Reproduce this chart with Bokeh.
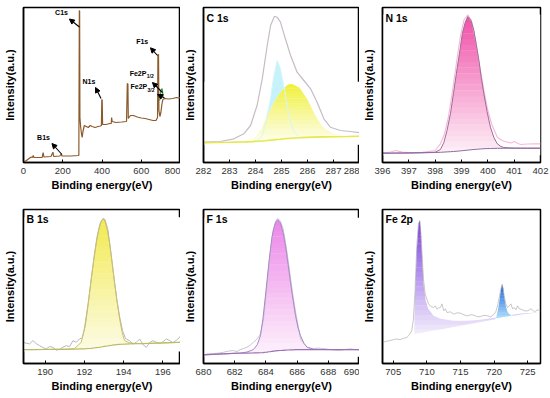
import numpy as np
from bokeh.plotting import figure
from bokeh.layouts import gridplot
from bokeh.models import Range1d, FixedTicker, Arrow, NormalHead, Label
from bokeh.embed import file_html
from bokeh.resources import INLINE

FONT = "Liberation Sans"

# ---------------- data ----------------
# Survey spectrum
sv_x = [0, 15, 25, 35, 40, 45, 50, 53, 70, 95, 100, 104, 140, 150, 154, 185, 192, 196, 240, 282,
        284.5, 286, 287.5, 291, 296, 299, 303, 310, 320, 330, 340, 350, 365, 380, 392, 397, 399, 401, 403,
        420, 440, 447, 449, 452, 470, 500, 525, 529, 532, 534, 545, 560, 580, 600, 620, 640, 660, 675,
        683, 685, 688, 690, 695, 700, 705, 710, 720, 740, 760, 780, 790, 800]
sv_y = [0.5, 2, 3.5, 5, 5.5, 5, 7, 5, 5, 5, 10, 5.5, 6, 10.3, 6, 6.5, 8.5, 6.5, 6.5, 7,
        152, 151.5, 45, 36, 28, 25, 31, 37, 36, 35, 37, 36, 35, 36, 36.5, 37, 63, 62.5, 38,
        38, 39, 39, 45, 41, 40, 40.5, 41, 79, 78.5, 44, 47, 47, 45.5, 44.5, 44, 43, 42, 42,
        45, 108, 108, 52, 46, 50, 58, 63, 64, 63.5, 64, 65, 64.5, 65]
sv_green_x = [694, 700, 706, 712]
sv_green_y = [62, 72, 74, 66]

# C 1s
c1s_x = [282.0, 283.0, 283.6, 283.9, 284.1, 284.25, 284.4, 284.55, 284.7, 284.83, 284.95, 285.1,
         285.25, 285.35, 285.5, 285.7, 286.0, 286.3, 286.6, 287.0, 287.5, 288.0]
c1s_base = [19.7, 20.2, 20.6, 20.9, 21.2, 21.5, 21.8, 22.2, 22.6, 23.0, 23.3, 23.7,
            24.0, 24.2, 24.5, 24.8, 25.1, 25.4, 25.6, 25.8, 26.0, 26.3]
c1s_yellow = [19.7, 20.3, 21.5, 24, 29, 35, 44.5, 52, 60, 65.5, 70, 74.5,
              78, 78.7, 77.5, 74.5, 63, 47, 35, 28.7, 26.5, 26.4]
c1s_cyan = [19.7, 20.2, 20.6, 21, 22.5, 26, 40, 60, 86, 102, 95, 75,
            52, 40, 30, 25.5, 25.1, 25.4, 25.6, 25.8, 26.0, 26.3]
c1s_env_x = [282.0, 282.65, 283.17, 283.55, 283.81, 284.06, 284.26, 284.45, 284.58, 284.73, 284.83,
             284.96, 285.15, 285.35, 285.6, 285.86, 286.12, 286.37, 286.63, 286.88, 287.27, 287.65, 288.0]
c1s_env_y = [20.3, 21, 23.7, 28.7, 37, 57, 83.7, 117, 137, 146.3, 145.3,
             140.3, 123.7, 107, 90.3, 82, 73.7, 60.3, 43.7, 35.3, 32, 31, 29.7]

# N 1s
n_x = [396.0, 396.3, 396.5, 396.75, 397.0, 397.5, 398.0, 398.2, 398.33, 398.45, 398.58, 398.7, 398.84,
       398.95, 399.03, 399.14, 399.24, 399.35, 399.47, 399.56, 399.66, 399.75, 399.85, 399.97, 400.1,
       400.23, 400.36, 400.5, 400.61, 400.8, 401.0, 401.25, 401.5, 402.0]
n_fit = [9.3, 9.4, 9.5, 9.5, 9.6, 9.8, 10.3, 13, 20, 32, 48.7, 70, 95.3,
         114, 128.7, 140, 146, 143, 132, 118, 102, 85, 68.7, 51, 35.3,
         25, 18.7, 16, 15, 14.6, 14.4, 14.3, 14.3, 14.3]
n_base = [9.3, 9.3, 9.4, 9.4, 9.5, 9.7, 10, 10.2, 10.4, 10.6, 10.8, 11.0, 11.3,
          11.6, 11.8, 12.1, 12.4, 12.7, 13.0, 13.2, 13.4, 13.6, 13.8, 13.9, 14.0,
          14.1, 14.2, 14.2, 14.3, 14.3, 14.3, 14.3, 14.3, 14.3]
n_raw_x = [396.0, 396.3, 396.5, 396.75, 397.0, 397.5, 398.0, 398.2, 398.35, 398.5, 398.65, 398.8, 398.95,
           399.1, 399.24, 399.4, 399.55, 399.7, 399.85, 400.0, 400.15, 400.36, 400.55, 400.74, 400.9,
           401.0, 401.15, 401.25, 401.5, 401.75, 402.0]
n_raw_y = [9.3, 10.5, 12, 10.3, 9.8, 10.2, 12, 18.7, 28, 45, 70, 98, 125,
           143, 147.7, 140, 120, 95, 72, 52, 38, 25.3, 22, 20.3, 19.5,
           21, 19, 18, 18.5, 18.7, 18.7]

# B 1s
b_x = [188.9, 189.5, 190.0, 190.5, 191.0, 191.5, 191.84, 192.0, 192.1, 192.23, 192.35, 192.48, 192.61,
       192.74, 192.86, 192.95, 193.03, 193.16, 193.29, 193.42, 193.54, 193.67, 193.8, 193.93, 194.05,
       194.31, 194.6, 195.0, 195.5, 196.0, 196.5, 196.9]
b_fit = [14, 14.1, 14.2, 14.3, 14.4, 15, 21.3, 35, 48, 66, 84.7, 104, 121.3,
         135, 143, 145.3, 144.7, 135, 121.3, 101, 81.3, 62, 44.7, 31, 23,
         20.8, 20.1, 20.1, 20.4, 20.7, 21.1, 21.4]
b_base = [14, 14, 14.1, 14.2, 14.3, 14.5, 14.7, 14.8, 14.9, 15.1, 15.3, 15.6, 15.9,
          16.2, 16.6, 16.9, 17.2, 17.6, 18, 18.4, 18.7, 19, 19.2, 19.4, 19.5,
          19.7, 19.9, 20.1, 20.4, 20.7, 21.1, 21.4]
b_raw_x = [188.87, 189.21, 189.38, 189.55, 189.72, 189.9, 190.06, 190.23, 190.4, 190.57, 190.74, 190.91,
           191.08, 191.25, 191.42, 191.59, 191.75, 191.9, 192.05, 192.2, 192.35, 192.5, 192.65, 192.8,
           192.95, 193.05, 193.2, 193.35, 193.5, 193.65, 193.8, 193.95, 194.1, 194.31, 194.48, 194.65,
           194.82, 194.99, 195.16, 195.33, 195.5, 195.67, 195.84, 196.01, 196.18, 196.35, 196.52, 196.69,
           196.86, 197.0]
b_raw_y = [21.3, 19.7, 23, 20, 18, 16, 14.7, 17, 16.3, 13.5, 14, 16.5,
           18, 17, 23, 21.3, 24.7, 26, 38, 60, 85, 108, 128, 141,
           146, 145, 135, 112, 88, 65, 47, 33, 25, 23, 19.5, 21.3,
           24.7, 19, 16.3, 21, 23, 21.3, 20, 22, 24.7, 23, 21, 23.5,
           26.3, 33]

# F 1s
f_x = [680.0, 680.64, 681.28, 681.92, 682.35, 682.78, 683.2, 683.45, 683.65, 683.81, 683.97, 684.08,
       684.19, 684.3, 684.4, 684.51, 684.62, 684.76, 684.94, 685.1, 685.26, 685.42, 685.58, 685.74,
       685.9, 686.06, 686.22, 686.45, 686.65, 687.07, 687.5, 688.14, 688.78, 689.42, 690.0]
f_base = [8.7, 9.2, 9.7, 10.1, 10.3, 10.5, 10.6, 10.7, 10.8, 11.0, 11.3, 11.5,
          11.8, 12.0, 12.3, 12.5, 12.7, 12.9, 13.1, 13.3, 13.5, 13.6, 13.7, 13.8,
          13.9, 14.0, 14.0, 14.0, 14.0, 14.0, 14.0, 14.0, 14.0, 14.0, 14.0]
f_fit = [8.7, 9.2, 9.7, 10.2, 10.6, 11.5, 14, 19, 28, 45, 68, 85,
         101.3, 116, 128, 136, 142, 144.7, 141.3, 132, 118, 100, 81.3, 64,
         48, 36, 28, 20, 16.3, 14.3, 14.1, 14, 14, 14, 14]
f_raw_x = [680.0, 680.3, 680.64, 681.0, 681.28, 681.6, 681.92, 682.15, 682.35, 682.55, 682.78, 683.0,
           683.2, 683.45, 683.65, 683.85, 684.05, 684.25, 684.45, 684.62, 684.76, 684.9, 685.1, 685.3,
           685.5, 685.7, 685.9, 686.1, 686.22, 686.45, 686.65, 686.85, 687.07, 687.3, 687.5, 687.8,
           688.14, 688.45, 688.78, 689.1, 689.42, 689.7, 690.0]
f_raw_y = [8.7, 9.8, 10, 10.5, 11.3, 12.5, 13, 12, 14, 15, 16.3, 18.5,
           21.3, 25, 29.7, 45, 75, 108, 133, 143, 146, 144, 136, 118,
           95, 72, 52, 35, 24.7, 20, 16.3, 15.5, 14.7, 15.5, 15.3, 14.8,
           14, 13.5, 13.3, 14.2, 14.7, 14, 13.7]

# Fe 2p
fe_p_x = [708.0, 708.25, 708.5, 708.75, 708.9, 709.1, 709.3, 709.5, 709.8, 710.2, 711.0, 712.0,
          714.0, 716.0, 718.0, 720.0, 722.0, 724.0, 726.5]
fe_p_top = [30, 70, 115, 140, 144.7, 135, 105, 80, 64, 55, 48, 45,
            43, 43, 44, 46, 48.5, 50.3, 51.3]
fe_p_base = [29.5, 29.8, 30.1, 30.4, 30.6, 30.8, 31.1, 31.3, 31.7, 32.1, 33.1, 34.3,
             36.8, 39.3, 41.8, 44.3, 46.8, 49.3, 51.3]
fe_b_x = [720.2, 720.45, 720.6, 720.75, 720.9, 721.05, 721.2, 721.35, 721.5, 721.65, 721.8, 722.0,
          722.2, 722.45, 722.7]
fe_b_top = [45.3, 50, 55, 61, 69, 76, 79.7, 76, 68, 61, 56, 52, 50, 49, 48.5]
fe_b_base = [45.3, 45.6, 45.8, 46.0, 46.1, 46.3, 46.5, 46.7, 46.8, 47.0, 47.2, 47.4, 47.7, 48.0, 48.5]
fe_raw_x = [703.5, 704.0, 704.5, 705.0, 705.5, 706.0, 706.5, 707.0, 707.25, 707.5, 707.75, 708.0,
            708.25, 708.5, 708.75, 709.0, 709.25, 709.5, 709.75, 710.0, 710.25, 710.5, 710.75, 711.0,
            711.25, 711.5, 711.75, 712.0, 712.25, 712.5, 712.75, 713.0, 713.5, 714.0, 714.5, 715.0,
            715.5, 716.0, 716.5, 717.0, 717.5, 718.0, 718.5, 719.0, 719.5, 720.0, 720.25, 720.5,
            720.75, 720.9, 721.05, 721.2, 721.35, 721.5, 721.75, 722.0, 722.25, 722.5, 722.75, 723.0,
            723.25, 723.5, 723.75, 724.0, 724.5, 725.0, 725.5, 726.0, 726.5, 726.9]
fe_raw_y = [21.3, 22.5, 23, 24, 24.7, 24, 25.3, 26, 28, 30, 33, 44.7,
            74.7, 118, 141.3, 143, 114.7, 84.7, 70, 64.7, 60, 58, 57, 56.3,
            58, 54.7, 56, 56.3, 60, 53, 55, 51.3, 52, 49.7, 51, 50.7,
            49, 48, 49, 48.7, 47, 47.3, 48.5, 48, 47, 49.7, 52, 58,
            66, 71.3, 76, 79.7, 75, 68, 60, 56.3, 58, 60, 55, 56.3,
            54, 58, 55, 54.7, 53, 53, 55, 52, 54, 53]

# axis ticks
sv_ticks = [0, 200, 400, 600, 800]
c1s_ticks = [282, 283, 284, 285, 286, 287, 288]
n_ticks = [396, 397, 398, 399, 400, 401, 402]
b_ticks = [190, 192, 194, 196]
f_ticks = [680, 682, 684, 686, 688, 690]
fe_ticks = [705, 710, 715, 720, 725]

# ---------------- layout ----------------
COL_LEFT = [23, 23, 23]
COL_FRAME = [157, 156, 158]
COL_RIGHT = [0, 0, 10]
ROW_TOP = [7, 1]
ROW_FRAME = [155, 154]
ROW_BOTTOM = [46, 34]


# ---------------- helpers ----------------
def hex2rgb(h):
    h = h.lstrip("#")
    return np.array([int(h[i:i + 2], 16) for i in (0, 2, 4)], float)


def mix(c_bot, c_top, t):
    a, b = hex2rgb(c_bot), hex2rgb(c_top)
    c = a + (b - a) * t
    return "#%02x%02x%02x" % tuple(int(round(v)) for v in c)


def grad_fill(p, xs, top, base, c_top, c_bot, dx, n=24):
    xs = np.asarray(xs, float)
    top = np.asarray(top, float)
    base = np.asarray(base, float)
    lo, hi = base.min(), top.max()
    edges = lo + (hi - lo) * np.arange(n + 1) / n
    cols = [mix(c_bot, c_top, (k + 0.5) / n) for k in range(n)]
    p.quad(left=xs.min() + dx, right=xs.max() - dx, bottom=edges[:-1], top=edges[1:] + 0.3,
           fill_color=cols, line_color=None)
    pad = 2.0
    p.patch(list(xs) + [xs.max(), xs.min()], list(top) + [hi + pad, hi + pad],
            fill_color="white", line_color=None)
    p.patch(list(xs) + [xs.max(), xs.min()], list(base) + [lo - pad, lo - pad],
            fill_color="white", line_color=None)


def make_fig(xr, ticks, row, col):
    left, fw, right = COL_LEFT[col], COL_FRAME[col], COL_RIGHT[col]
    top, fh, bottom = ROW_TOP[row], ROW_FRAME[row], ROW_BOTTOM[row]
    p = figure(width=left + fw + right, height=top + fh + bottom,
               x_range=Range1d(*xr), y_range=Range1d(0, 155),
               output_backend="svg", toolbar_location=None,
               min_border_left=left, min_border_right=right,
               min_border_top=top, min_border_bottom=bottom)
    p.xgrid.visible = False
    p.ygrid.visible = False
    p.outline_line_color = "black"
    p.outline_line_width = 1.5
    p.background_fill_color = "white"
    p.border_fill_color = "white"
    xa = p.xaxis[0]
    xa.ticker = FixedTicker(ticks=ticks)
    xa.minor_tick_line_color = None
    xa.major_tick_in = 3
    xa.major_tick_out = 0
    xa.axis_line_color = "black"
    xa.axis_line_width = 1.5
    xa.major_tick_line_color = "black"
    xa.major_label_text_font = FONT
    xa.major_label_text_font_size = "9.5px"
    xa.major_label_text_color = "#333333"
    xa.major_label_standoff = 5
    xa.axis_label = "Binding energy(eV)"
    xa.axis_label_text_font = FONT
    xa.axis_label_text_font_style = "bold"
    xa.axis_label_text_font_size = "11px"
    xa.axis_label_text_color = "black"
    xa.axis_label_standoff = 2
    ya = p.yaxis[0]
    ya.ticker = FixedTicker(ticks=[])
    ya.minor_tick_line_color = None
    ya.major_tick_in = 0
    ya.major_tick_out = 0
    ya.major_label_text_font_size = "0px"
    ya.major_label_standoff = 0
    ya.axis_line_color = "black"
    ya.axis_line_width = 1.5
    ya.axis_label = "Intensity(a.u.)"
    ya.axis_label_text_font = FONT
    ya.axis_label_text_font_style = "bold"
    ya.axis_label_text_font_size = "11px"
    ya.axis_label_text_color = "black"
    ya.axis_label_standoff = 8
    return p


def px(xr, col):
    return (xr[1] - xr[0]) / COL_FRAME[col]


def title(p, xr, col, txt):
    p.add_layout(Label(x=xr[0] + 3 * px(xr, col), y=145, text=txt, text_font=FONT,
                       text_font_style="bold", text_font_size="10.5px",
                       text_baseline="middle", text_align="left", text_color="black"))


def slabel(p, x, y, txt, size="7px", align="center"):
    p.add_layout(Label(x=x, y=y, text=txt, text_font=FONT, text_font_style="bold",
                       text_font_size=size, text_baseline="middle", text_align=align,
                       text_color="black"))


def sarrow(p, x0, y0, x1, y1):
    p.add_layout(Arrow(end=NormalHead(size=5, fill_color="black", line_color="black"),
                       x_start=x0, y_start=y0, x_end=x1, y_end=y1,
                       line_color="black", line_width=1.1))


# ---------------- panel 1: survey ----------------
xr1 = (0, 800)
p1 = make_fig(xr1, sv_ticks, 0, 0)
p1.line(sv_x, sv_y, line_color="#8b5a2b", line_width=1.2)
p1.line(sv_green_x, sv_green_y, line_color="#3a9a3a", line_width=1.2)
slabel(p1, 193.6, 149.7, "C1s")
sarrow(p1, 285, 135.5, 234, 143.5)
slabel(p1, 333, 81.3, "N1s")
sarrow(p1, 395, 64, 367, 75)
slabel(p1, 102, 25, "B1s")
sarrow(p1, 196, 8, 145, 19)
slabel(p1, 605, 121, "F1s")
sarrow(p1, 683, 107, 647, 114.7)
slabel(p1, 541, 89.3, "Fe2P", align="left")
slabel(p1, 628, 86.3, "1/2", size="5px", align="left")
sarrow(p1, 708, 70, 657, 80)
slabel(p1, 545, 76, "Fe2P", align="left")
slabel(p1, 632, 73, "3/2", size="5px", align="left")
sarrow(p1, 718.5, 64.5, 683, 68)

# ---------------- panel 2: C 1s ----------------
xr2 = (282, 288)
p2 = make_fig(xr2, c1s_ticks, 0, 1)
grad_fill(p2, c1s_x, c1s_yellow, c1s_base, "#f0f03a", "#fefef2", px(xr2, 1))
p2.varea(x=c1s_x, y1=c1s_yellow, y2=np.maximum(np.array(c1s_cyan), np.array(c1s_yellow)),
         fill_color="#c6f3fb")
p2.line(c1s_x, c1s_cyan, line_color="#d8f5fa", line_width=1)
p2.line(c1s_env_x, c1s_env_y, line_color="#c6bcc6", line_width=1.2)
p2.line(c1s_x, c1s_base, line_color="#e8e84a", line_width=1.6)
title(p2, xr2, 1, "C 1s")

# ---------------- panel 3: N 1s ----------------
xr3 = (396, 402)
p3 = make_fig(xr3, n_ticks, 0, 2)
grad_fill(p3, n_x, n_fit, n_base, "#f050a8", "#fdf0f7", px(xr3, 2))
p3.line(n_raw_x, n_raw_y, line_color="#f5bcd9", line_width=1.2)
p3.line(n_x, n_fit, line_color="#9c6c98", line_width=1)
p3.line(n_x, n_base, line_color="#8c6ca0", line_width=1)
title(p3, xr3, 2, "N 1s")

# ---------------- panel 4: B 1s ----------------
xr4 = (188.9, 196.9)
p4 = make_fig(xr4, b_ticks, 1, 0)
grad_fill(p4, b_x, b_fit, b_base, "#f2ea50", "#fcfbe4", px(xr4, 0))
p4.line(b_raw_x, b_raw_y, line_color="#b8b8b8", line_width=1)
p4.line(b_x, b_fit, line_color="#c8c06a", line_width=1)
p4.line(b_x, b_base, line_color="#bcbc62", line_width=1.2)
title(p4, xr4, 0, "B 1s")

# ---------------- panel 5: F 1s ----------------
xr5 = (680, 690)
p5 = make_fig(xr5, f_ticks, 1, 1)
grad_fill(p5, f_x, f_fit, f_base, "#ec86e8", "#fdf2fb", px(xr5, 1))
p5.line(f_raw_x, f_raw_y, line_color="#cac2ce", line_width=1)
p5.line(f_x, f_fit, line_color="#a888c8", line_width=1)
p5.line(f_x, f_base, line_color="#9c72b2", line_width=1.2)
title(p5, xr5, 1, "F 1s")

# ---------------- panel 6: Fe 2p ----------------
xr6 = (703.4, 726.9)
p6 = make_fig(xr6, fe_ticks, 1, 2)
grad_fill(p6, fe_p_x, fe_p_top, fe_p_base, "#7a40e0", "#f3eefc", px(xr6, 2))
grad_fill(p6, fe_b_x, fe_b_top, fe_b_base, "#1a60e0", "#b0e0f8", px(xr6, 2), n=12)
p6.line(fe_raw_x, fe_raw_y, line_color="#b0b0b0", line_width=0.7)
title(p6, xr6, 2, "Fe 2p")

grid = gridplot([[p1, p2, p3], [p4, p5, p6]], toolbar_location=None)
open("out.html", "w").write(file_html(grid, INLINE))
